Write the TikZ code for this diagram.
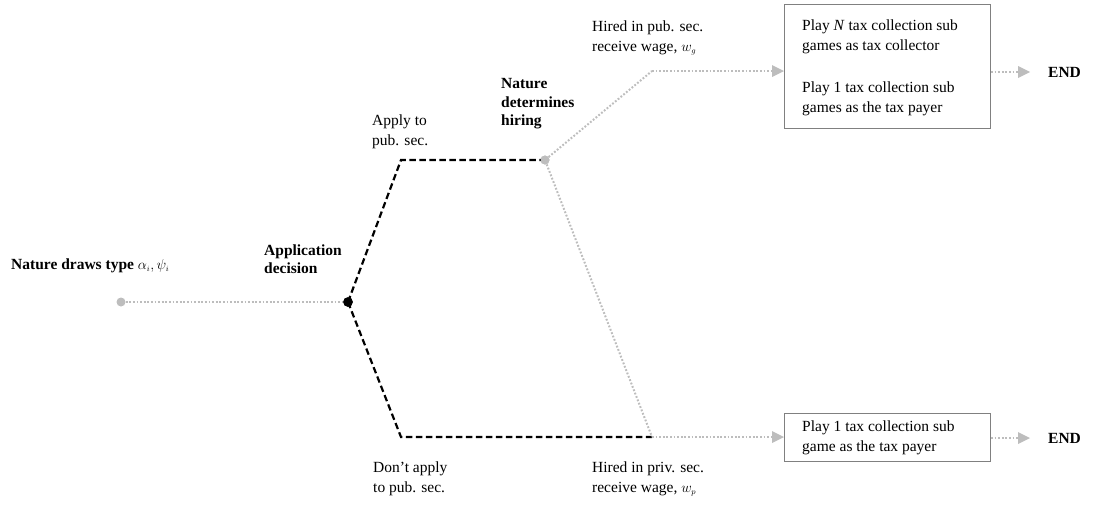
\documentclass[tikz,border=0pt]{standalone}
\usepackage{fontspec}
\setmainfont{Liberation Serif}
\usetikzlibrary{arrows.meta}
\definecolor{lgray}{HTML}{BDBDBD}
\definecolor{bgray}{HTML}{808080}
\tikzset{
  txt/.style={align=left, inner sep=0pt, font=\fontsize{15.5}{19.5}\selectfont, anchor=west},
  btxt/.style={txt, font=\fontsize{15.5}{18.5}\selectfont\bfseries},
  dotg/.style={circle, fill=lgray, inner sep=0pt, minimum size=9pt},
  dotb/.style={circle, fill=black, inner sep=0pt, minimum size=9.5pt},
  gline/.style={draw=lgray, line width=2pt, dash pattern=on 1.8pt off 1.8pt},
  bline/.style={draw=black, line width=2.2pt, dash pattern=on 6.5pt off 3.5pt},
  garrow/.style={gline, -{Triangle[length=12pt,width=12pt,fill=lgray,line width=0pt]}},
  boxs/.style={draw=bgray, line width=1pt, inner sep=0pt, minimum width=206pt, anchor=north west},
}
\begin{document}
\begin{tikzpicture}[x=1pt,y=-1pt]
\useasboundingbox (0,0) rectangle (1096,504);
% points
\node[dotg] (start) at (121,302) {};
\node[dotb] (app) at (348,302) {};
\coordinate (up) at (401,160);
\node[dotg] (hire) at (545,160) {};
\coordinate (lo) at (401,437);
\coordinate (priv) at (652,437);
\coordinate (pubw) at (652,71);
% boxes
\node[boxs, minimum height=124pt] (box1) at (784,4) {};
\node[boxs, minimum height=48pt] (box2) at (784,413) {};
\node[txt] at (802,37) {Play \textit{N} tax collection sub\\games as tax collector};
\node[txt] at (802,99) {Play 1 tax collection sub\\games as the tax payer};
\node[txt] at (802,438) {Play 1 tax collection sub\\game as the tax payer};
\node[btxt] (end1) at (1048,72) {END};
\node[btxt] (end2) at (1048,438) {END};
% connectors
\draw[gline] (start) -- (app);
\draw[bline] (app.center) -- (up) -- (hire.center);
\draw[bline] (app.center) -- (lo) -- (priv);
\draw[gline] (hire) -- (pubw);
\draw[garrow] (pubw) -- (box1.west |- pubw);
\draw[gline] (hire) -- (priv);
\draw[garrow] (priv) -- (box2.west |- priv);
\draw[garrow] (box1.east |- end1) -- ([xshift=-18pt]end1.west);
\draw[garrow] (box2.east |- end2) -- ([xshift=-18pt]end2.west);
\node[dotg] at (hire) {};
\node[dotb] at (app) {};
% labels
\node[btxt] at (11,266) {Nature draws type $\alpha_{\scriptscriptstyle i},\psi_{\scriptscriptstyle i}$};
\node[btxt] at (264,259) {Application\\decision};
\node[txt] at (372,132) {Apply to\\pub. sec.};
\node[btxt] at (501,104) {Nature\\determines\\hiring};
\node[txt] at (592,38) {Hired in pub. sec.\\receive wage, $w_{\scriptscriptstyle g}$};
\node[txt] at (373,479) {Don't apply\\to pub. sec.};
\node[txt] at (592,479) {Hired in priv. sec.\\receive wage, $w_{\scriptscriptstyle p}$};
\end{tikzpicture}
\end{document}
